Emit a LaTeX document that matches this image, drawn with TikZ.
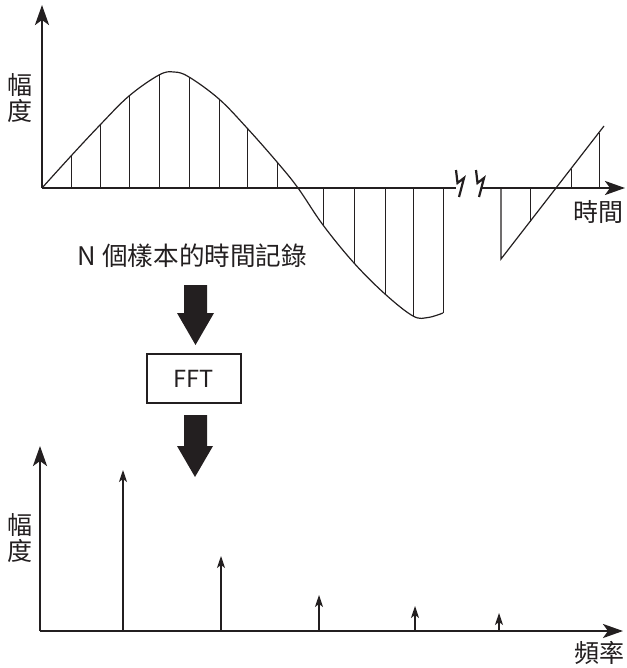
\documentclass[tikz,border=0pt]{standalone}
\usepackage{fontspec}
\setmainfont{Noto Sans CJK TC}
\usetikzlibrary{arrows.meta}
\definecolor{ink}{RGB}{35,31,32}
\begin{document}
\begin{tikzpicture}[x=1pt,y=-1pt,
  axisline/.style={ink,line width=2.6pt},
  axisarrow/.style={axisline,-{Stealth[length=20pt,width=14pt,inset=5pt]}},
  sampleline/.style={ink,line width=1pt},
  curveline/.style={ink,line width=1.2pt},
  specline/.style={ink,line width=1.2pt,-{Stealth[length=12pt,width=8pt,inset=3pt]}},
  breakmark/.style={ink,line width=2.2pt,line join=miter},
  lbl/.style={ink,font=\fontsize{25}{26}\selectfont,inner sep=0pt,align=center},
  blockarrow/.style={fill=ink,draw=none},
  fftbox/.style={draw=ink,line width=1.5pt,minimum width=94pt,minimum height=49pt,inner sep=0pt,font=\fontsize{23.5}{24}\selectfont,text=ink}
]
\useasboundingbox (0,0) rectangle (626,668);
% ---- top plot ----
\coordinate (o1) at (42,188);
\draw[axisarrow] (o1) -- (42,5);
\draw[axisline] (o1) -- (456,188);
\draw[axisarrow] (481,188) -- (625,188);
% break marks
\draw[breakmark] (456,170) -- (457.5,183) -- (464,178) -- (459,197);
\draw[breakmark] (476,170) -- (477.5,183) -- (484,178) -- (479,197);
% sample lines
\foreach \x/\y in {71/156,100/125,129/96,159/75,189/77,219/99,247/128,277/162,
                   323/225,354/263,385/294,413/316,443/313}
  \draw[sampleline] (\x,188) -- (\x,\y);
% curve
\draw[curveline] plot[smooth,tension=0.6] coordinates {(42,188) (71,156) (100,125) (129,96) (159,75) (174,72) (189,77) (219,99) (247,128) (277,162) (298,188) (323,225) (354,263) (385,294) (413,316) (428,317.5) (443,313)};
% right part
\draw[curveline] (501,188) -- (501,259) -- (604,126);
\foreach \x/\y in {530/222,571/169,599/133}
  \draw[sampleline] (\x,188) -- (\x,\y);
% labels
\node[lbl] (amp1) at (20,98) {幅\\度};
\node[lbl] (time) at (598,212) {時間};
\node[ink,font=\fontsize{25.6}{27}\selectfont,inner sep=0pt] (rec) at (192.5,256) {N 個樣本的時間記錄};
% block arrow 1
\fill[blockarrow] (184,285) -- (207,285) -- (207,313) -- (214,313) -- (195.5,345) -- (177,313) -- (184,313) -- cycle;
\node[fftbox] (fft) at (194,378.5) {FFT};
% block arrow 2
\fill[blockarrow] (184,415) -- (207,415) -- (207,446) -- (213,446) -- (195,477) -- (177,446) -- (184,446) -- cycle;
% ---- bottom plot ----
\coordinate (o2) at (40,631);
\draw[axisarrow] (o2) -- (40,446);
\draw[axisarrow] (o2) -- (623,631);
\foreach \x/\y in {123/470,221/556,319/595,415/606,499/613}
  \draw[specline] (\x,631) -- (\x,\y);
\node[lbl] (amp2) at (20,538.5) {幅\\度};
\node[lbl] (freq) at (599,653) {頻率};
\end{tikzpicture}
\end{document}
